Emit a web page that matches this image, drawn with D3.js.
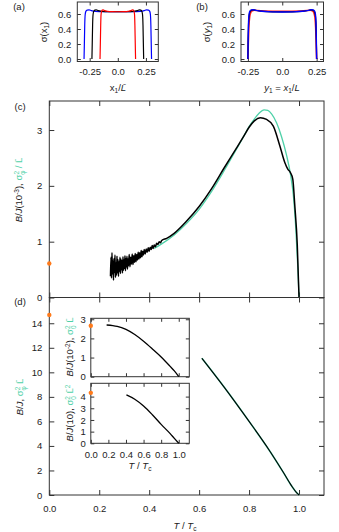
<!DOCTYPE html>
<html>
<head>
<meta charset="utf-8">
<script src="https://cdn.jsdelivr.net/npm/d3@7"></script>
<style>
  body { margin: 0; background: #fff; }
  text { font-family: "Liberation Sans", Arimo, Arial, sans-serif; fill: #222; }
</style>
</head>
<body>
<div id="viz"></div>
<script>
const W = 339, H = 532;
const teal = '#4fd1a8';
const orange = '#ff7a1a';

// (a) sigma(x1) profiles
const aBlue = [[-0.300,0],[-0.297,0.22],[-0.294,0.45],[-0.290,0.59],[-0.284,0.635],[-0.272,0.652],[-0.255,0.655],[-0.235,0.645],[-0.20,0.636],[-0.12,0.631],[0,0.630],[0.12,0.631],[0.20,0.636],[0.235,0.645],[0.255,0.655],[0.272,0.652],[0.284,0.635],[0.290,0.59],[0.294,0.45],[0.297,0.22],[0.300,0]];
const aBlack = [[-0.230,0],[-0.227,0.22],[-0.224,0.45],[-0.220,0.59],[-0.214,0.635],[-0.204,0.652],[-0.192,0.655],[-0.175,0.645],[-0.14,0.636],[-0.08,0.631],[0,0.630],[0.08,0.631],[0.14,0.636],[0.175,0.645],[0.192,0.655],[0.204,0.652],[0.214,0.635],[0.220,0.59],[0.224,0.45],[0.227,0.22],[0.230,0]];
const aRed = [[-0.158,0],[-0.155,0.22],[-0.152,0.45],[-0.149,0.59],[-0.144,0.635],[-0.138,0.652],[-0.130,0.655],[-0.118,0.645],[-0.09,0.636],[-0.05,0.632],[0,0.630],[0.05,0.632],[0.09,0.636],[0.118,0.645],[0.130,0.655],[0.138,0.652],[0.144,0.635],[0.149,0.59],[0.152,0.45],[0.155,0.22],[0.158,0]];

// (b) sigma(y1) profiles
const bRed = [[-0.250,0],[-0.247,0.20],[-0.243,0.42],[-0.237,0.56],[-0.229,0.62],[-0.218,0.643],[-0.203,0.650],[-0.18,0.646],[-0.13,0.640],[-0.06,0.637],[0,0.636],[0.06,0.637],[0.13,0.640],[0.18,0.646],[0.203,0.650],[0.218,0.643],[0.229,0.62],[0.237,0.56],[0.243,0.42],[0.247,0.20],[0.250,0]];
const bBlack = [[-0.250,0],[-0.248,0.24],[-0.245,0.48],[-0.240,0.59],[-0.233,0.635],[-0.222,0.652],[-0.207,0.655],[-0.185,0.647],[-0.14,0.636],[-0.07,0.629],[0,0.628],[0.07,0.629],[0.14,0.636],[0.185,0.647],[0.207,0.655],[0.222,0.652],[0.233,0.635],[0.240,0.59],[0.245,0.48],[0.248,0.24],[0.250,0]];
const bBlue = [[-0.250,0],[-0.248,0.25],[-0.245,0.50],[-0.241,0.60],[-0.235,0.640],[-0.225,0.655],[-0.210,0.657],[-0.19,0.648],[-0.15,0.636],[-0.08,0.628],[0,0.626],[0.08,0.628],[0.15,0.636],[0.19,0.648],[0.210,0.657],[0.225,0.655],[0.235,0.640],[0.241,0.60],[0.245,0.50],[0.248,0.25],[0.250,0]];

// (c) B/J (1e-3) simulation, noisy at low T
const cBlack = [[0.245,0.38],[0.247,0.72],[0.249,0.35],[0.251,0.80],[0.253,0.42],[0.255,0.66],[0.257,0.31],[0.259,0.70],[0.261,0.45],[0.263,0.76],[0.265,0.36],[0.267,0.62],[0.269,0.40],[0.271,0.74],[0.273,0.44],[0.275,0.68],[0.277,0.38],[0.279,0.64],[0.281,0.47],[0.283,0.72],[0.285,0.43],[0.287,0.69],[0.289,0.50],[0.291,0.66],[0.293,0.44],[0.295,0.73],[0.297,0.49],[0.299,0.67],[0.301,0.52],[0.303,0.75],[0.305,0.48],[0.307,0.70],[0.309,0.55],[0.311,0.74],[0.313,0.51],[0.315,0.69],[0.317,0.57],[0.320,0.77],[0.323,0.55],[0.326,0.72],[0.329,0.60],[0.332,0.78],[0.335,0.59],[0.338,0.75],[0.341,0.63],[0.344,0.79],[0.347,0.64],[0.350,0.77],[0.353,0.67],[0.356,0.81],[0.359,0.69],[0.362,0.80],[0.365,0.71],[0.368,0.84],[0.371,0.73],[0.374,0.83],[0.377,0.76],[0.380,0.86],[0.384,0.78],[0.388,0.87],[0.392,0.81],[0.396,0.89],[0.400,0.83],[0.404,0.90],[0.408,0.86],[0.412,0.93],[0.416,0.88],[0.420,0.94],[0.425,0.91],[0.430,0.97],[0.435,0.95],[0.440,1.00],[0.445,0.98],[0.450,1.02],[0.47,1.06],[0.50,1.15],[0.55,1.37],[0.60,1.63],[0.65,1.95],[0.70,2.32],[0.75,2.68],[0.78,2.90],[0.80,3.05],[0.82,3.16],[0.845,3.22],[0.87,3.19],[0.897,3.07],[0.923,2.72],[0.943,2.42],[0.955,2.30],[0.965,2.24],[0.975,2.12],[0.983,1.65],[0.993,0.94],[1.0,0.0]];
// (c) sigma_phi^2 / L (teal)
const cTeal = [[0.42,0.88],[0.45,0.96],[0.50,1.12],[0.55,1.33],[0.60,1.58],[0.65,1.90],[0.70,2.27],[0.75,2.66],[0.78,2.90],[0.80,3.06],[0.82,3.19],[0.84,3.30],[0.86,3.36],[0.875,3.35],[0.89,3.29],[0.91,3.13],[0.93,2.88],[0.95,2.55],[0.966,2.20],[0.977,1.84],[0.987,1.24],[0.995,0.55],[1.0,0]];
const cDot = [0, 0.61];

// (d) main
const dTeal = [[0.611,11.15],[0.70,8.80],[0.80,6.00],[0.884,3.55],[0.937,1.85],[0.971,0.72],[0.99,0.20],[1.0,0]];
const dBlack = [[0.611,11.15],[0.70,8.80],[0.80,6.00],[0.884,3.55],[0.937,1.85],[0.971,0.72],[0.99,0.20],[1.0,0]];
const dDot = [0, 14.68];

// insets
const i1Black = [[0.18,2.70],[0.25,2.67],[0.30,2.63],[0.40,2.47],[0.50,2.20],[0.60,1.85],[0.70,1.45],[0.80,1.03],[0.90,0.55],[0.95,0.30],[1.0,0]];
const i1Dot = [0, 2.66];
const i2Black = [[0.405,4.15],[0.50,3.78],[0.60,3.20],[0.70,2.45],[0.80,1.62],[0.90,0.85],[0.95,0.42],[1.0,0]];
const i2Dot = [0, 4.32];

const abXTicks = [-0.25, 0, 0.25];
const abYTicks = [0, 0.2, 0.4, 0.6];
const mainXTicks = [0, 0.2, 0.4, 0.6, 0.8, 1.0];
const cYTicks = [0, 1, 2, 3];
const dYTicks = [0, 2, 4, 6, 8, 10, 12, 14];
const i1YTicks = [0, 1, 2, 3];
const i2YTicks = [0, 1, 2, 3, 4];

const svg = d3.select('#viz').append('svg')
  .attr('width', W)
  .attr('height', H);

// scales
const xa = d3.scaleLinear().domain([-0.36, 0.36]).range([77.3, 158.3]);
const ya = d3.scaleLinear().domain([-0.033, 0.76]).range([61.5, 2]);
const xb = d3.scaleLinear().domain([-0.3, 0.3]).range([241, 323.5]);
const yb = ya.copy();
const xc = d3.scaleLinear().domain([0, 1.1]).range([49.3, 324]);
const yc = d3.scaleLinear().domain([0, 3.52]).range([297.5, 101]);
const yd = d3.scaleLinear().domain([0, 16.1]).range([495, 297.5]);
const xi = d3.scaleLinear().domain([0, 1.12]).range([90.8, 189.3]);
const yi1 = d3.scaleLinear().domain([0, 3.05]).range([376.7, 318.3]);
const yi2 = d3.scaleLinear().domain([0, 5.14]).range([443.3, 383.3]);

function frame(x, y, o) {
  const g = svg.append('g');
  const [x0, x1] = x.range(), [y0, y1] = y.range();
  g.append('rect')
    .attr('x', x0).attr('y', y1)
    .attr('width', x1 - x0).attr('height', y0 - y1)
    .attr('fill', o.fill || 'none');
  const tl = o.tl || 4;
  const fs = o.fs || 9.5;
  const none = () => '';
  const parts = [
    [d3.axisLeft(y).tickValues(o.yt).tickFormat(o.yf || none).tickPadding(o.ypad || 6), `translate(${x0},0)`],
    [d3.axisRight(y).tickValues(o.yt).tickFormat(none), `translate(${x1},0)`],
    [d3.axisBottom(x).tickValues(o.xt).tickFormat(o.xf || none).tickPadding(o.xpad || 7), `translate(0,${y0})`],
    [d3.axisTop(x).tickValues(o.xt).tickFormat(none), `translate(0,${y1})`]
  ];
  for (const [ax, tr] of parts) {
    const a = g.append('g')
      .attr('transform', tr)
      .call(ax.tickSizeInner(-tl).tickSizeOuter(0));
    a.attr('font-family', null).attr('font-size', null);
    a.select('.domain').remove();
    a.selectAll('.tick line').attr('stroke', '#333');
    a.selectAll('.tick text').style('font-size', fs + 'px');
  }
  g.append('rect')
    .attr('x', x0).attr('y', y1)
    .attr('width', x1 - x0).attr('height', y0 - y1)
    .attr('fill', 'none')
    .attr('stroke', '#333')
    .attr('stroke-width', 1);
  return g;
}

function curve(x, y, data, color, w) {
  svg.append('path')
    .datum(data)
    .attr('fill', 'none')
    .attr('stroke', color)
    .attr('stroke-width', w)
    .attr('stroke-linejoin', 'round')
    .attr('d', d3.line().x(d => x(d[0])).y(d => y(d[1])).curve(d3.curveMonotoneX));
}

function dot(x, y, d) {
  svg.append('circle')
    .attr('cx', x(d[0])).attr('cy', y(d[1]))
    .attr('r', 2.2)
    .attr('fill', orange);
}

function label(x, y, parts, rot, fs) {
  const t = svg.append('text')
    .attr('transform', `translate(${x},${y})` + (rot ? ' rotate(-90)' : ''))
    .attr('text-anchor', 'middle')
    .style('font-size', (fs || 9.5) + 'px');
  for (const p of parts) {
    const s = t.append('tspan').text(p.t);
    if (p.c) s.style('fill', p.c);
    if (p.i) s.style('font-style', 'italic');
    if (p.dy) s.attr('dy', p.dy);
    if (p.dx) s.attr('dx', p.dx);
    if (p.fs) s.style('font-size', p.fs + 'px');
  }
}

const f1 = d3.format('.1f');
const f2 = d => d === 0 ? '0.0' : d3.format('.2f')(d).replace('\u2212', '-');

// (a)
frame(xa, ya, { xt: abXTicks, yt: abYTicks, xf: f2, yf: f1, tl: 3.5, ypad: 6, xpad: 7 });
curve(xa, ya, aBlue, '#0000ff', 1.2);
curve(xa, ya, aBlack, '#000', 1.2);
curve(xa, ya, aRed, '#ff0000', 1.2);

// (b)
frame(xb, yb, { xt: abXTicks, yt: abYTicks, xf: f2, yf: f1, tl: 3.5, ypad: 6, xpad: 7 });
curve(xb, yb, bRed, '#ff2020', 1.6);
curve(xb, yb, bBlack, '#000', 1.2);
curve(xb, yb, bBlue, '#0000ff', 1.4);

// (c)
frame(xc, yc, { xt: mainXTicks, yt: cYTicks, yf: d3.format('d'), tl: 5, ypad: 7 });
curve(xc, yc, cTeal, teal, 1.3);
curve(xc, yc, cBlack, '#000', 1.5);
dot(xc, yc, cDot);

// (d)
frame(xc, yd, { xt: mainXTicks, yt: dYTicks, xf: f1, yf: d3.format('d'), tl: 5, ypad: 7, xpad: 10 });
curve(xc, yd, dTeal, teal, 1.6);
curve(xc, yd, dBlack, '#000', 1.1);
dot(xc, yd, dDot);

// insets
frame(xi, yi1, { xt: mainXTicks, yt: i1YTicks, yf: d3.format('d'), tl: 3.5, ypad: 5, fill: '#fff' });
curve(xi, yi1, i1Black, '#000', 1.3);
dot(xi, yi1, i1Dot);

frame(xi, yi2, { xt: mainXTicks, yt: i2YTicks, xf: f1, yf: d3.format('d'), tl: 3.5, ypad: 5, xpad: 8, fill: '#fff' });
curve(xi, yi2, i2Black, '#000', 1.3);
dot(xi, yi2, i2Dot);

// panel letters
label(19, 10, [{ t: '(a)' }]);
label(202, 10, [{ t: '(b)' }]);
label(20, 110, [{ t: '(c)' }]);
label(20, 305, [{ t: '(d)' }]);

// axis labels, top panels
label(47, 32, [{ t: 'σ(x' }, { t: '1', fs: 6.5, dy: 2 }, { t: ')', dy: -2 }], true);
label(210, 32, [{ t: 'σ(' }, { t: 'y', i: 1 }, { t: '1', fs: 6.5, dy: 2 }, { t: ')', dy: -2 }], true);
label(118, 91, [{ t: 'x' }, { t: '1', fs: 6.5, dy: 2 }, { t: '/', dy: -2 }, { t: 'L\u0304', i: 1 }]);
label(282, 91, [{ t: 'y', i: 1 }, { t: '1', fs: 6.5, dy: 2 }, { t: ' = ', dy: -2 }, { t: 'x', i: 1 }, { t: '1', fs: 6.5, dy: 2 }, { t: '/', dy: -2 }, { t: 'L', i: 1 }]);

// main y labels
label(22, 190, [
  { t: 'B', i: 1 }, { t: '/' }, { t: 'J', i: 1 }, { t: '(10' },
  { t: '-3', fs: 6.5, dy: -3.5 }, { t: '), ', dy: 3.5 },
  { t: 'σ', c: teal }, { t: 'φ', c: teal, fs: 6.5, dy: 2.5 },
  { t: '2', c: teal, fs: 6.5, dx: -4, dy: -6 }, { t: ' / L\u0304', c: teal, dy: 3.5 }
], true);
label(23, 397, [
  { t: 'B', i: 1 }, { t: '/' }, { t: 'J', i: 1 }, { t: ', ' },
  { t: 'σ', c: teal }, { t: 'φ', c: teal, fs: 6.5, dy: 2.5 },
  { t: '2', c: teal, fs: 6.5, dx: -4, dy: -6 }, { t: ' L\u0304', c: teal, dy: 3.5 }
], true);

// inset y labels
label(73, 347, [
  { t: 'B', i: 1 }, { t: '/' }, { t: 'J', i: 1 }, { t: '(10' },
  { t: '-2', fs: 6.5, dy: -3.5 }, { t: '), ', dy: 3.5 },
  { t: 'σ', c: teal }, { t: '0', c: teal, fs: 6.5, dy: 2.5 },
  { t: '2', c: teal, fs: 6.5, dx: -3.6, dy: -6 }, { t: ' L\u0304', c: teal, dy: 3.5 }
], true, 9.5);
label(73, 413, [
  { t: 'B', i: 1 }, { t: '/' }, { t: 'J', i: 1 }, { t: '(10), ' },
  { t: 'σ', c: teal }, { t: '0', c: teal, fs: 6.5, dy: 2.5 },
  { t: '2', c: teal, fs: 6.5, dx: -3.6, dy: -6 }, { t: ' L\u0304', c: teal, dy: 3.5 },
  { t: '2', c: teal, fs: 6.5, dy: -3.5 }
], true, 9.5);

// x labels
label(185, 529, [{ t: 'T', i: 1 }, { t: ' / ' }, { t: 'T', i: 1 }, { t: 'c', fs: 6.5, dy: 2 }]);
label(140, 469, [{ t: 'T', i: 1 }, { t: ' / ' }, { t: 'T', i: 1 }, { t: 'c', fs: 6.5, dy: 2 }]);
</script>
</body>
</html>
